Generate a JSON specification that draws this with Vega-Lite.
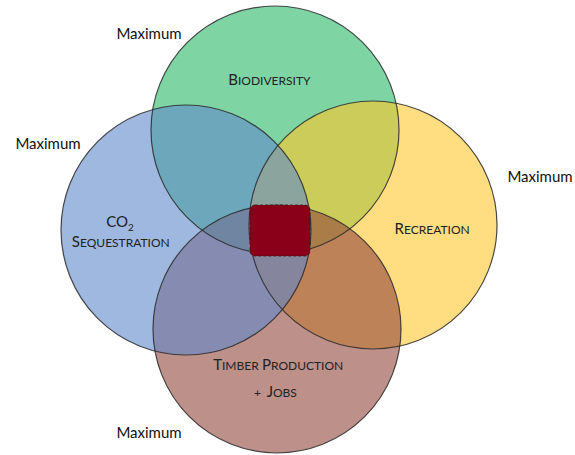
{
  "$schema": "https://vega.github.io/schema/vega-lite/v6.json",
  "width": 575,
  "height": 455,
  "padding": 0,
  "autosize": {"type": "none"},
  "background": "white",
  "config": {"view": {"stroke": null}},
  "datasets": {
    "circles": [
      {"name": "Biodiversity", "cx": 275, "cy": 130, "r": 124},
      {"name": "Recreation", "cx": 373, "cy": 225, "r": 124},
      {"name": "Timber Production + Jobs", "cx": 277, "cy": 329, "r": 124},
      {"name": "CO2 Sequestration", "cx": 186, "cy": 230, "r": 125}
    ],
    "core": [
      {"name": "All four", "x0": 250, "x1": 310, "y0": 205, "y1": 256}
    ],
    "labels": [
      {"text": "B", "role": "big", "x": 238, "y": 85},
      {"text": "IODIVERSITY", "role": "rest", "x": 238, "y": 85},
      {"text": "R", "role": "big", "x": 404, "y": 234},
      {"text": "ECREATION", "role": "rest", "x": 404, "y": 234},
      {"text": "S", "role": "big", "x": 80, "y": 247},
      {"text": "EQUESTRATION", "role": "rest", "x": 80, "y": 247},
      {"text": "CO", "role": "co", "x": 128, "y": 227},
      {"text": "2", "role": "sub", "x": 128, "y": 231},
      {"text": "T", "role": "big", "x": 222, "y": 370},
      {"text": "IMBER", "role": "rest", "x": 222, "y": 370},
      {"text": "P", "role": "big", "x": 271, "y": 370},
      {"text": "RODUCTION", "role": "rest", "x": 271, "y": 370},
      {"text": "+", "role": "rest", "x": 254, "y": 397},
      {"text": "J", "role": "big", "x": 273, "y": 397},
      {"text": "OBS", "role": "rest", "x": 273, "y": 397},
      {"text": "Maximum", "role": "max", "x": 149, "y": 39},
      {"text": "Maximum", "role": "max", "x": 48, "y": 149},
      {"text": "Maximum", "role": "max", "x": 540, "y": 182},
      {"text": "Maximum", "role": "max", "x": 149, "y": 438}
    ]
  },
  "layer": [
    {
      "data": {"name": "circles"},
      "mark": {"type": "point", "shape": "circle", "filled": true, "fillOpacity": 0.6, "strokeWidth": 0},
      "encoding": {
        "x": {"field": "cx", "type": "quantitative", "scale": {"domain": [0, 575], "nice": false, "zero": false}, "axis": null},
        "y": {"field": "cy", "type": "quantitative", "scale": {"domain": [0, 455], "nice": false, "zero": false, "reverse": true}, "axis": null},
        "size": {"field": "r", "type": "quantitative", "scale": {"type": "pow", "exponent": 2, "domain": [0, 100], "range": [0, 40000], "nice": false}, "legend": null},
        "color": {"field": "name", "type": "nominal", "scale": {"domain": ["Biodiversity", "Recreation", "Timber Production + Jobs", "CO2 Sequestration"], "range": ["#2AB767", "#FFC62B", "#91463C", "#5F89CB"]}, "legend": null}
      }
    },
    {
      "data": {"name": "circles"},
      "mark": {"type": "point", "shape": "circle", "filled": false, "stroke": "#2b2b2b", "strokeWidth": 1.2, "opacity": 0.85},
      "encoding": {
        "x": {"field": "cx", "type": "quantitative", "axis": null},
        "y": {"field": "cy", "type": "quantitative", "axis": null},
        "size": {"field": "r", "type": "quantitative", "legend": null}
      }
    },
    {
      "data": {"name": "core"},
      "mark": {"type": "rect", "fill": "#890018", "stroke": "#3a1a1a", "strokeWidth": 0.8, "strokeDash": [3, 2], "cornerRadius": 5},
      "encoding": {
        "x": {"field": "x0", "type": "quantitative", "axis": null},
        "x2": {"field": "x1"},
        "y": {"field": "y0", "type": "quantitative", "axis": null},
        "y2": {"field": "y1"}
      }
    },
    {
      "data": {"name": "labels"},
      "transform": [{"filter": "datum.role === 'big'"}],
      "mark": {"type": "text", "align": "right", "baseline": "alphabetic", "font": "Lato", "fontSize": 15, "color": "#222222"},
      "encoding": {
        "x": {"field": "x", "type": "quantitative", "axis": null},
        "y": {"field": "y", "type": "quantitative", "axis": null},
        "text": {"field": "text"}
      }
    },
    {
      "data": {"name": "labels"},
      "transform": [{"filter": "datum.role === 'rest'"}],
      "mark": {"type": "text", "align": "left", "baseline": "alphabetic", "font": "Lato", "fontSize": 12, "color": "#222222"},
      "encoding": {
        "x": {"field": "x", "type": "quantitative", "axis": null},
        "y": {"field": "y", "type": "quantitative", "axis": null},
        "text": {"field": "text"}
      }
    },
    {
      "data": {"name": "labels"},
      "transform": [{"filter": "datum.role === 'co'"}],
      "mark": {"type": "text", "align": "right", "baseline": "alphabetic", "font": "Lato", "fontSize": 15, "color": "#222222"},
      "encoding": {
        "x": {"field": "x", "type": "quantitative", "axis": null},
        "y": {"field": "y", "type": "quantitative", "axis": null},
        "text": {"field": "text"}
      }
    },
    {
      "data": {"name": "labels"},
      "transform": [{"filter": "datum.role === 'sub'"}],
      "mark": {"type": "text", "align": "left", "baseline": "alphabetic", "font": "Lato", "fontSize": 10, "color": "#222222"},
      "encoding": {
        "x": {"field": "x", "type": "quantitative", "axis": null},
        "y": {"field": "y", "type": "quantitative", "axis": null},
        "text": {"field": "text"}
      }
    },
    {
      "data": {"name": "labels"},
      "transform": [{"filter": "datum.role === 'max'"}],
      "mark": {"type": "text", "align": "center", "baseline": "alphabetic", "font": "Lato", "fontSize": 15, "color": "#111111"},
      "encoding": {
        "x": {"field": "x", "type": "quantitative", "axis": null},
        "y": {"field": "y", "type": "quantitative", "axis": null},
        "text": {"field": "text"}
      }
    }
  ]
}
